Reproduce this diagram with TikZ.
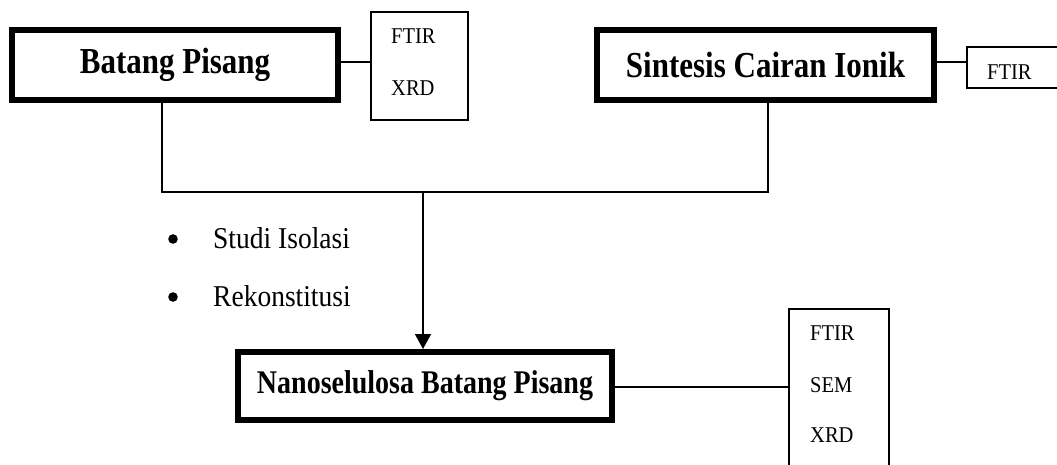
\documentclass[tikz,border=0pt]{standalone}
\usepackage{fontspec}
\setmainfont{Liberation Serif}
\usetikzlibrary{arrows.meta}
\newcommand{\tallA}[1]{\scalebox{1}[1.18]{#1}}
\newcommand{\tallB}[1]{\scalebox{1}[1.1]{#1}}
\begin{document}
\begin{tikzpicture}[x=1pt,y=-1pt,
  mainbox/.style={draw,line width=6pt,minimum width=#1,minimum height=70pt,inner sep=0pt,font=\fontsize{31}{36}\selectfont\bfseries},
  smallbox/.style={draw,line width=1.5pt,inner sep=0pt},
  smalltxt/.style={anchor=west,inner sep=0pt,font=\fontsize{20.5}{24}\selectfont},
  bigtxt/.style={anchor=west,inner sep=0pt,font=\fontsize{27.5}{32}\selectfont},
  line/.style={line width=1.5pt}]
\useasboundingbox (0,0) rectangle (1057,464);
\clip (0,0) rectangle (1057,464);
\fill[white] (0,0) rectangle (1057,464);
% main boxes
\node[mainbox=326pt] (b1) at (175,65) {\tallA{Batang Pisang}};
\node[mainbox=337pt] (b2) at (765.5,65) {\tallA{Sintesis Cairan Ionik}};
\node[mainbox=374pt,minimum height=68pt,font=\fontsize{28}{32}\selectfont\bfseries] (b3) at (425,386) {\tallA{Nanoselulosa Batang Pisang}};
% measurement boxes
\node[smallbox,minimum width=97pt,minimum height=108pt] (m1) at (419.5,66) {};
\node[smalltxt] (m1a) at (391,36) {\tallB{FTIR}};
\node[smalltxt] (m1b) at (391,88) {\tallB{XRD}};
\node[smallbox,minimum width=120pt,minimum height=41pt] (m2) at (1027,67.5) {};
\node[smalltxt] (m2a) at (987,72) {\tallB{FTIR}};
\node[smallbox,minimum width=100pt,minimum height=190pt] (m3) at (839,404) {};
\node[smalltxt] (m3a) at (810,333) {\tallB{FTIR}};
\node[smalltxt] (m3b) at (810,385) {\tallB{SEM}};
\node[smalltxt] (m3c) at (810,435) {\tallB{XRD}};
% connectors
\draw[line] (b1.east |- 0,62) -- (m1.west |- 0,62);
\draw[line] (b2.east |- 0,62) -- (m2.west |- 0,62);
\draw[line] (b3.east |- 0,387) -- (m3.west |- 0,387);
\coordinate (jl) at (162,192);
\coordinate (jr) at (768,192);
\coordinate (jm) at (423,192);
\draw[line] (b1.south -| jl) -- (jl) -- (jr) -- (b2.south -| jr);
\draw[line,-{Triangle[length=15pt,width=16pt]}] (jm) -- (b3.north -| jm);
% bullets
\fill (173,239) circle (4.8pt);
\fill (173,297) circle (4.8pt);
\node[bigtxt] (s1) at (213,238) {\tallB{Studi Isolasi}};
\node[bigtxt] (s2) at (213,296) {\tallB{Rekonstitusi}};
\end{tikzpicture}
\end{document}
